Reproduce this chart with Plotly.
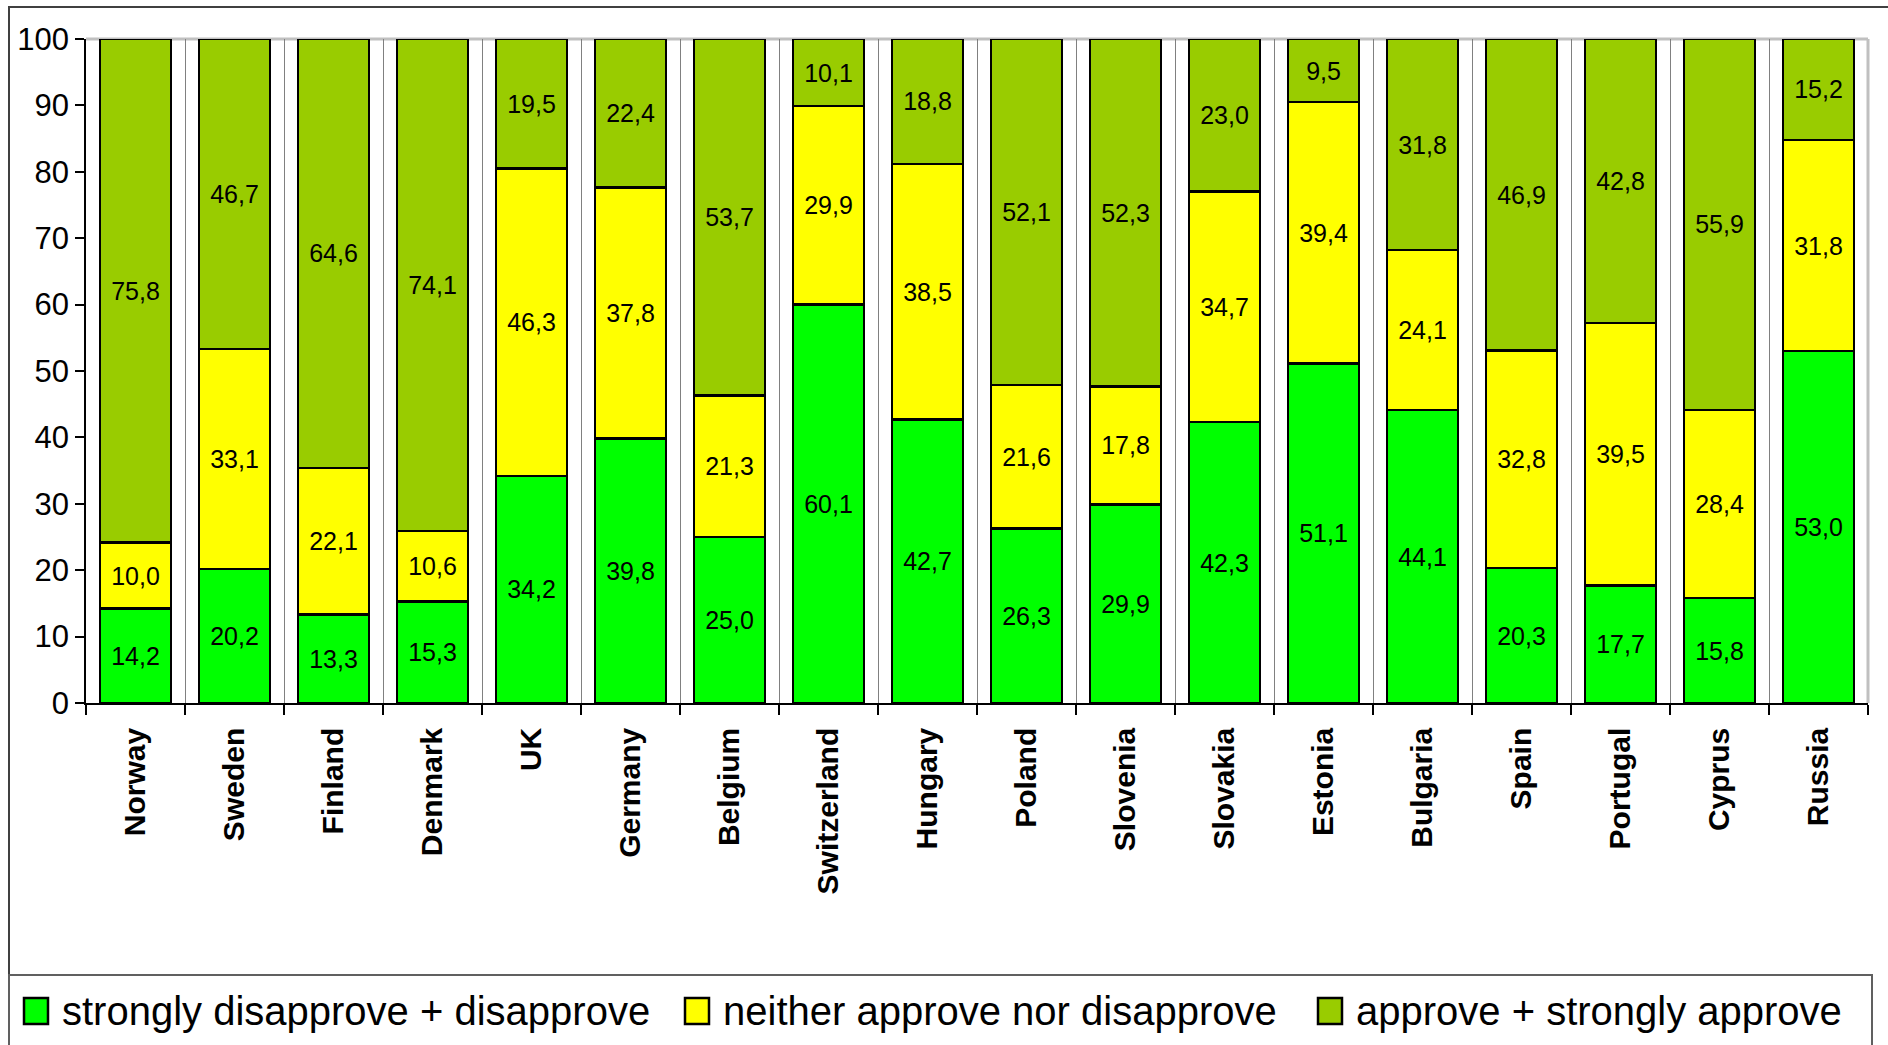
import plotly.graph_objects as go

# Survey shares per country (per cent), stacked to 100 %
countries = ["Norway", "Sweden", "Finland", "Denmark", "UK", "Germany", "Belgium",
             "Switzerland", "Hungary", "Poland", "Slovenia", "Slovakia", "Estonia",
             "Bulgaria", "Spain", "Portugal", "Cyprus", "Russia"]
disapprove = [14.2, 20.2, 13.3, 15.3, 34.2, 39.8, 25.0, 60.1, 42.7, 26.3, 29.9, 42.3,
              51.1, 44.1, 20.3, 17.7, 15.8, 53.0]
neither = [10.0, 33.1, 22.1, 10.6, 46.3, 37.8, 21.3, 29.9, 38.5, 21.6, 17.8, 34.7,
           39.4, 24.1, 32.8, 39.5, 28.4, 31.8]
approve = [75.8, 46.7, 64.6, 74.1, 19.5, 22.4, 53.7, 10.1, 18.8, 52.1, 52.3, 23.0,
           9.5, 31.8, 46.9, 42.8, 55.9, 15.2]

series_names = ["strongly disapprove + disapprove",
                "neither approve nor disapprove",
                "approve + strongly approve"]
series_values = [disapprove, neither, approve]
series_colors = ["#00FF00", "#FFFF00", "#99CC00"]

y_ticks = list(range(0, 101, 10))

FONT = "Liberation Sans, Arial, sans-serif"
W, H = 1888, 1045
L, R, T, B = 86, 20, 39, 342
PW, PH = W - L - R, H - T - B


def px_x(px):
    return (px - L) / PW


def px_y(py):
    return (H - B - py) / PH


def comma(v):
    return f"{v:.1f}".replace(".", ",")


fig = go.Figure()
for name, vals, col in zip(series_names, series_values, series_colors):
    fig.add_trace(go.Bar(
        x=countries, y=vals, name=name,
        marker=dict(color=col, line=dict(color="black", width=2.5)),
        text=[comma(v) for v in vals],
        textposition="inside", insidetextanchor="middle", textangle=0,
        textfont=dict(family=FONT, size=25, color="black"),
        hoverinfo="skip", showlegend=False,
    ))

shapes = [
    # plot-area border (top and right)
    dict(type="line", xref="paper", yref="paper", x0=0, x1=1, y0=1, y1=1,
         line=dict(color="#c0c0c0", width=3), layer="below"),
    dict(type="line", xref="paper", yref="paper", x0=1, x1=1, y0=0, y1=1,
         line=dict(color="#c0c0c0", width=3), layer="below"),
    # chart frame
    dict(type="rect", xref="paper", yref="paper",
         x0=px_x(9), x1=px_x(1910), y0=px_y(7), y1=px_y(1070),
         line=dict(color="#404040", width=2)),
    # legend box
    dict(type="rect", xref="paper", yref="paper",
         x0=px_x(9), x1=px_x(1872), y0=px_y(975), y1=px_y(1070),
         line=dict(color="#606060", width=2)),
]

annotations = []
legend_sq = [24, 685, 1318]
legend_tx = [60, 721, 1354]
ly = 1011
for name, col, sx, tx in zip(series_names, series_colors, legend_sq, legend_tx):
    shapes.append(dict(type="rect", xref="paper", yref="paper",
                       x0=px_x(sx), x1=px_x(sx + 24), y0=px_y(ly - 13), y1=px_y(ly + 13),
                       fillcolor=col, line=dict(color="black", width=2.5)))
    annotations.append(dict(xref="paper", yref="paper", x=px_x(tx), y=px_y(ly),
                            xanchor="left", yanchor="middle", showarrow=False,
                            text=name, font=dict(family=FONT, size=40, color="black")))

fig.update_layout(
    width=W, height=H,
    margin=dict(l=L, r=R, t=T, b=B, pad=0),
    barmode="stack", barnorm="percent", bargap=0.28,
    plot_bgcolor="white", paper_bgcolor="white",
    font=dict(family=FONT, color="black"),
    shapes=shapes, annotations=annotations,
    showlegend=False,
)
fig.update_xaxes(
    type="category", tickson="boundaries", ticks="outside", ticklen=10,
    tickcolor="black", tickwidth=1.5,
    showgrid=True, gridcolor="#808080", gridwidth=1,
    showline=True, linecolor="black", linewidth=1.5,
    tickangle=-90, tickfont=dict(family=FONT, size=30, color="black", weight="bold"),
    ticklabelstandoff=11,
)
fig.update_yaxes(
    range=[0, 100], tickvals=y_ticks, ticks="outside", ticklen=9,
    tickcolor="black", tickwidth=1.5,
    showgrid=False, zeroline=False,
    showline=True, linecolor="black", linewidth=1.5,
    tickfont=dict(family=FONT, size=31, color="black"),
)

fig.write_html("out.html")
